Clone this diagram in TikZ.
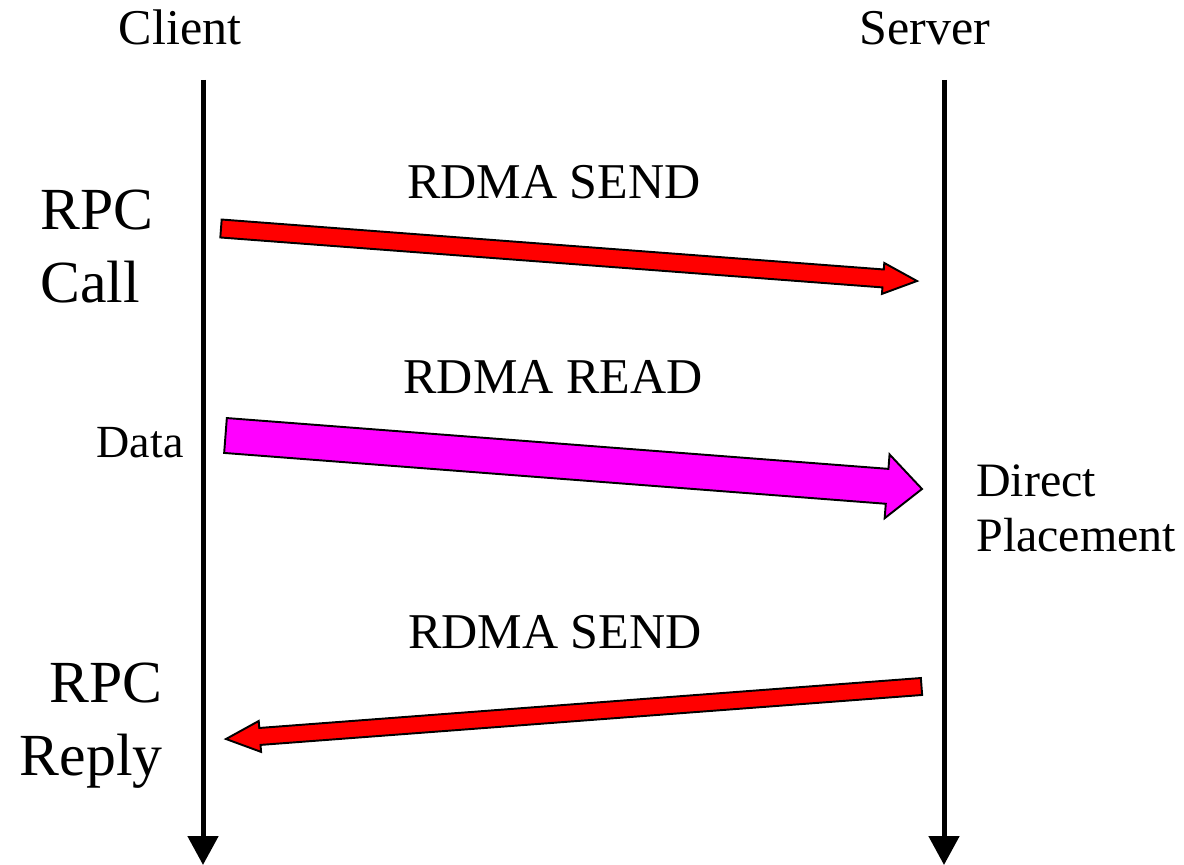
\documentclass[tikz,border=0pt]{standalone}
\usepackage{fontspec}
\setmainfont{Liberation Serif}
\usetikzlibrary{arrows.meta, calc, positioning}
\definecolor{readfill}{RGB}{255,0,255}
\definecolor{sendfill}{RGB}{255,0,0}

% outlined block arrow: tail, tip, half shaft, half head, head length, fill
\newcommand{\blockarrow}[6]{%
  \coordinate (#2-base) at ($(#2)!#5!(#1)$);
  \draw[blockline, fill=#6]
    ($(#1)!#3!90:(#2)$) -- ($(#2-base)!#3!90:(#2)$) -- ($(#2-base)!#4!90:(#2)$)
    -- (#2) -- ($(#2-base)!#4!-90:(#2)$) -- ($(#2-base)!#3!-90:(#2)$)
    -- ($(#1)!#3!-90:(#2)$) -- cycle;
}

\begin{document}
\begin{tikzpicture}[x=0.02cm, y=-0.02cm,
    life/.style={line width=0.1cm, -{Triangle[width=0.6cm, length=0.58cm]}},
    party/.style={font=\fontsize{28.5}{34}\selectfont, inner sep=0pt, anchor=base},
    msg/.style={font=\fontsize{28.5}{34}\selectfont, inner sep=0pt, anchor=base},
    rpc/.style={font=\fontsize{34}{41.5}\selectfont, inner sep=0pt},
    note/.style={font=\fontsize{27.3}{31.3}\selectfont, inner sep=0pt, align=left},
    side/.style={font=\fontsize{26.2}{31}\selectfont, inner sep=0pt, anchor=base},
    blockline/.style={draw=black, line width=1.1pt, line join=miter}
]
\useasboundingbox (0,0) rectangle (1184,865);
% parties and lifelines
\node[party] (client) at (180,45) {Client};
\node[party] (server) at (925,45) {Server};
\coordinate (client-top) at (203,80);
\coordinate (client-end) at (203,865);
\coordinate (server-top) at (944,80);
\coordinate (server-end) at (944,865);
\draw[life] (client-top) -- (client-end);
\draw[life] (server-top) -- (server-end);
% message end points
\coordinate (send-tail) at (221,228.5);
\coordinate (send-tip) at (917,281);
\coordinate (read-tail) at (225.5,435.5);
\coordinate (read-tip) at (922,489);
\coordinate (reply-tail) at (921.5,686.5);
\coordinate (reply-tip) at (226,739);
% messages
\blockarrow{send-tail}{send-tip}{0.18cm}{0.31cm}{0.68cm}{sendfill}
\blockarrow{read-tail}{read-tip}{0.35cm}{0.64cm}{0.7cm}{readfill}
\blockarrow{reply-tail}{reply-tip}{0.17cm}{0.31cm}{0.68cm}{sendfill}
% labels
\node[msg] (send-label) at (554,198.5) {RDMA SEND};
\node[msg] (read-label) at (553,393.5) {RDMA READ};
\node[msg] (reply-label) at (555,648.5) {RDMA SEND};
\node[rpc, align=left, anchor=west] (call-label) at (40,246.5) {RPC\\Call};
\node[rpc, align=right, anchor=east] (rpc-reply-label) at (163,726) {RPC\\Reply};
\node[side] (data-label) at (140,457) {Data};
\node[note, anchor=west] (placement-label) at (976,508) {Direct\\Placement};
\end{tikzpicture}
\end{document}
